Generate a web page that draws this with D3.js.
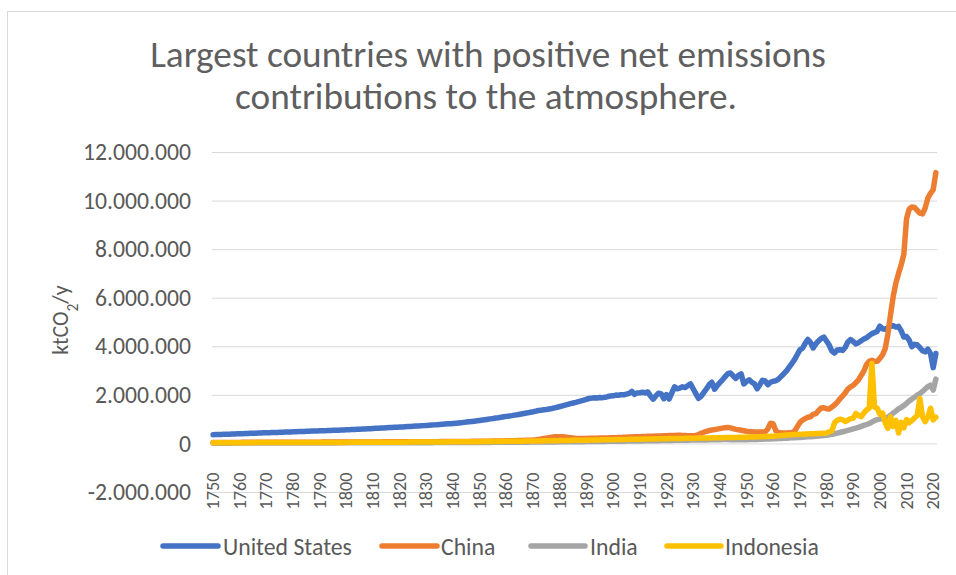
<!DOCTYPE html>
<html>
<head>
<meta charset="utf-8">
<script src="https://cdn.jsdelivr.net/npm/d3@7"></script>
<style>
  html, body { margin: 0; padding: 0; background: #ffffff; }
  svg { display: block; }
</style>
</head>
<body>
<svg id="chart" width="956" height="575"></svg>
<script>
// Annual CO2 emissions, in thousands of kt (plotted in kt), 1750–2021.
const years = d3.range(1750, 2022);

const unitedStates = [
  360,363,367,371,375,379,383,387,391,395,
  399,403,407,411,415,419,423,427,431,435,
  439,443,447,451,455,459,463,467,471,475,
  479,483,487,491,495,499,503,507,511,515,
  519,523,527,531,535,539,543,547,551,555,
  560,565,571,576,582,587,593,598,604,609,
  615,621,627,633,639,645,651,657,663,669,
  675,681,688,694,701,707,714,720,727,733,
  740,748,756,764,772,780,788,797,806,815,
  825,835,845,856,867,878,890,903,916,930,
  945,962,978,995,1010,1025,1045,1060,1080,1100,
  1115,1130,1145,1165,1180,1200,1220,1240,1260,1285,
  1305,1330,1355,1370,1385,1400,1420,1440,1465,1490,
  1520,1550,1580,1610,1640,1665,1690,1720,1750,1780,
  1820,1850,1865,1880,1870,1890,1885,1900,1930,1950,
  1960,1990,1985,2010,2000,2030,2060,2140,2020,2080,
  2090,2110,2080,2120,1950,1820,1960,2070,2040,1840,
  2010,1830,2080,2330,2250,2280,2330,2300,2380,2450,
  2250,2050,1860,1940,2100,2250,2420,2520,2230,2380,
  2500,2620,2750,2870,2900,2780,2680,2800,2860,2450,
  2550,2620,2520,2450,2250,2420,2600,2570,2420,2520,
  2560,2580,2650,2760,2870,2990,3140,3290,3450,3650,
  3850,3920,4120,4280,4150,3930,4100,4220,4320,4380,
  4220,4050,3800,3720,3850,3860,3830,3950,4180,4280,
  4200,4100,4150,4230,4300,4350,4440,4520,4560,4620,
  4830,4720,4700,4760,4820,4850,4790,4820,4640,4380,
  4400,4250,3980,4080,4060,3950,3820,3770,3880,3700,
  3120,3700
];

const china = [
  40,40,41,41,41,42,42,42,43,43,
  43,44,44,44,45,45,45,46,46,46,
  47,47,47,48,48,48,49,49,49,50,
  50,50,51,51,51,52,52,52,53,53,
  53,54,54,54,55,55,55,56,56,56,
  57,57,58,58,59,59,60,60,61,61,
  62,62,63,63,64,64,65,65,66,66,
  67,67,68,68,69,69,70,70,71,71,
  72,72,73,74,74,75,76,76,77,78,
  78,79,80,81,82,83,84,85,86,87,
  88,89,90,92,94,96,98,100,102,104,
  106,108,111,114,117,120,124,128,132,136,
  140,150,165,180,200,220,240,260,275,280,
  280,275,265,250,235,220,210,205,205,205,
  205,210,210,215,215,220,220,225,225,230,
  230,235,240,245,250,255,260,265,270,275,
  280,285,290,295,300,300,305,310,310,315,
  320,325,330,330,335,335,330,325,320,315,
  320,330,360,420,460,500,530,550,570,590,
  610,630,650,660,640,610,580,560,540,520,
  500,490,480,470,470,470,470,480,600,830,
  800,520,450,430,430,430,440,440,500,680,
  860,960,1020,1080,1100,1200,1230,1350,1460,1470,
  1430,1420,1500,1580,1690,1830,1950,2080,2240,2330,
  2390,2500,2620,2800,2980,3250,3380,3420,3370,3380,
  3500,3650,3900,4500,5300,6050,6600,7000,7350,7800,
  9250,9650,9740,9720,9600,9480,9450,9700,10100,10300,
  10450,11150
];

const india = [
  10,10,11,11,11,12,12,12,13,13,
  13,13,14,14,14,15,15,15,15,16,
  16,16,16,17,17,17,17,18,18,18,
  18,19,19,19,19,20,20,20,20,21,
  21,21,21,22,22,22,22,23,23,23,
  23,24,24,24,24,25,25,25,26,26,
  26,26,27,27,27,28,28,28,29,29,
  29,30,30,30,31,31,31,32,32,32,
  33,33,33,34,34,35,35,35,36,36,
  37,37,38,38,38,39,39,40,40,41,
  41,42,42,43,43,44,44,45,46,46,
  47,48,48,49,50,50,51,52,53,54,
  55,55,56,57,58,59,60,61,62,63,
  64,65,66,67,68,69,70,71,72,74,
  75,76,77,78,80,81,82,84,85,86,
  88,89,91,92,94,95,97,98,100,102,
  103,105,107,108,110,112,114,115,117,119,
  121,123,125,127,129,130,132,134,136,138,
  140,141,142,143,145,146,148,150,152,154,
  156,158,160,158,156,155,154,152,150,152,
  155,158,160,163,166,170,174,178,182,186,
  190,195,200,206,212,218,224,230,236,242,
  248,255,262,270,278,286,295,305,316,328,
  340,360,380,400,425,450,480,510,540,570,
  600,630,660,700,740,780,820,880,940,980,
  1000,1020,1040,1080,1160,1250,1330,1420,1480,1560,
  1650,1750,1830,1900,1990,2050,2140,2240,2340,2400,
  2200,2650
];

const indonesia = [
  30,30,30,31,31,31,31,32,32,32,
  32,33,33,33,33,34,34,34,34,35,
  35,35,35,36,36,36,36,37,37,37,
  37,38,38,38,38,39,39,39,40,40,
  40,40,41,41,41,42,42,42,43,43,
  43,44,44,44,45,45,46,46,46,47,
  47,48,48,48,49,49,50,50,51,51,
  52,52,53,53,54,54,55,55,56,57,
  57,58,59,59,60,61,61,62,63,64,
  65,65,66,67,68,69,70,71,72,73,
  74,75,76,77,78,80,81,82,83,85,
  86,87,89,90,91,93,94,96,97,99,
  100,102,103,105,107,108,110,112,113,115,
  117,119,120,122,124,126,128,130,132,134,
  136,138,140,142,144,146,148,150,152,154,
  156,158,160,162,164,166,168,170,172,174,
  176,178,180,182,184,186,188,190,192,194,
  196,198,200,202,204,206,208,210,212,214,
  216,218,220,222,224,226,228,230,232,234,
  236,238,240,242,244,246,248,250,252,254,
  256,260,264,268,272,276,280,285,290,295,
  300,310,320,330,340,350,355,360,365,370,
  375,380,385,390,395,400,405,410,415,420,
  430,480,520,850,950,1000,980,900,960,1020,
  1040,1240,1150,1100,1250,1380,1450,3300,1500,1450,
  1200,1250,850,620,1100,700,950,430,870,640,
  980,850,950,1050,1150,1850,1100,900,1100,1450,
  970,1080
];

const seriesNames  = ["United States", "China", "India", "Indonesia"];
const seriesValues = [unitedStates, china, india, indonesia];
const seriesColors = ["#4472C4", "#ED7D31", "#A5A5A5", "#FFC000"];

const yTicks = [-2000000, 0, 2000000, 4000000, 6000000, 8000000, 10000000, 12000000];
const xLabelYears = d3.range(1750, 2021, 10);

const titleLines = ["Largest countries with positive net emissions",
                    "contributions to the atmosphere."];

seriesValues.forEach((s, i) => {
  if (s.length !== years.length) throw new Error(seriesNames[i] + " has " + s.length + " values");
});

// ---- layout ----
const FONT = "Carlito, Calibri, Lato, 'Open Sans', sans-serif";
const TITLE_FONT = "'Calibri Light', Carlito, 'Lato Light', Lato, 'Open Sans', sans-serif";
const TEXT = "#595959";
const GRID = "#d9d9d9";
const plot = { left: 211.8, right: 937.2, top: 152, bottom: 492 };

const svg = d3.select("#chart");

// chart frame
svg.append("rect")
  .attr("x", 7.5).attr("y", 11.5)
  .attr("width", 1200).attr("height", 1200)
  .attr("fill", "none").attr("stroke", GRID).attr("stroke-width", 1);

// fit a text element's font size to a given rendered width
function fitWidth(sel, width) {
  const w = sel.node().getComputedTextLength();
  const fs = parseFloat(sel.attr("font-size"));
  const nfs = fs * width / w;
  sel.attr("font-size", nfs);
  return nfs;
}

// ---- title ----
const t1 = svg.append("text")
  .attr("x", 488).attr("y", 67)
  .attr("text-anchor", "middle")
  .attr("font-family", TITLE_FONT).attr("font-weight", 300)
  .attr("font-size", 30).attr("fill", "#5f5f5f")
  .text(titleLines[0]);
const titleSize = fitWidth(t1, 676);
svg.append("text")
  .attr("x", 486).attr("y", 109)
  .attr("text-anchor", "middle")
  .attr("font-family", TITLE_FONT).attr("font-weight", 300)
  .attr("font-size", titleSize).attr("fill", "#5f5f5f")
  .text(titleLines[1]);

// ---- scales ----
const x = d3.scalePoint()
  .domain(years)
  .range([plot.left, plot.right])
  .padding(0.5);

const y = d3.scaleLinear()
  .domain([-2000000, 12000000])
  .range([plot.bottom, plot.top]);

const locale = d3.formatLocale({ decimal: ",", thousands: ".", grouping: [3], currency: ["", ""], minus: "-" });
const fmt = locale.format(",");

// ---- gridlines + y axis labels ----
const yAxis = d3.axisLeft(y)
  .tickValues(yTicks)
  .tickSize(-(plot.right - plot.left))
  .tickPadding(20)
  .tickFormat(fmt);

const gy = svg.append("g")
  .attr("transform", `translate(${plot.left},0)`)
  .call(yAxis);
gy.select(".domain").remove();
gy.selectAll(".tick line").attr("stroke", GRID).attr("stroke-width", 1);
gy.selectAll(".tick text")
  .attr("font-family", FONT).attr("fill", TEXT).attr("font-size", 20)
  .attr("x", 191 - plot.left);
const yLabelSize = fitWidth(gy.selectAll(".tick text").filter(d => d === 12000000), 108);
gy.selectAll(".tick text").attr("font-size", yLabelSize);

// ---- x axis labels (rotated decade years) ----
const gx = svg.append("g");
const xl = gx.selectAll("text")
  .data(xLabelYears)
  .join("text")
  .attr("transform", d => `translate(${x(d)},491) rotate(-90)`)
  .attr("text-anchor", "middle")
  .attr("dominant-baseline", "central")
  .attr("font-family", FONT).attr("fill", TEXT).attr("font-size", 16)
  .text(d => d);
const xLabelSize = fitWidth(d3.select(xl.nodes()[0]), 37);
xl.attr("font-size", xLabelSize);

// ---- y axis title ----
const yt = svg.append("text")
  .attr("transform", "translate(68,320) rotate(-90)")
  .attr("text-anchor", "middle")
  .attr("font-family", FONT).attr("fill", TEXT).attr("font-size", 22);
yt.append("tspan").text("ktCO");
yt.append("tspan").attr("baseline-shift", "sub").attr("font-size", "70%").text("2");
yt.append("tspan").text("/y");

// ---- series lines ----
const line = d3.line()
  .x((d, i) => x(years[i]))
  .y(d => y(d * 1000));

svg.append("g")
  .selectAll("path")
  .data(seriesValues)
  .join("path")
  .attr("d", d => line(d))
  .attr("fill", "none")
  .attr("stroke", (d, i) => seriesColors[i])
  .attr("stroke-width", 5.5)
  .attr("stroke-linejoin", "round")
  .attr("stroke-linecap", "round");

// ---- legend ----
const legendItems = [
  { swatch: [163, 218], textX: 223 },
  { swatch: [382, 437], textX: 441 },
  { swatch: [531, 585], textX: 590 },
  { swatch: [667, 721], textX: 725 }
];
const legendY = 546;
const lg = svg.append("g");
legendItems.forEach((it, i) => {
  lg.append("line")
    .attr("x1", it.swatch[0]).attr("x2", it.swatch[1])
    .attr("y1", legendY).attr("y2", legendY)
    .attr("stroke", seriesColors[i]).attr("stroke-width", 5.5)
    .attr("stroke-linecap", "round");
  lg.append("text")
    .attr("x", it.textX).attr("y", legendY)
    .attr("dominant-baseline", "central")
    .attr("font-family", FONT).attr("fill", TEXT).attr("font-size", 20)
    .text(seriesNames[i]);
});
const legendSize = fitWidth(lg.selectAll("text").filter((d, i) => i === 0), 129);
lg.selectAll("text").attr("font-size", legendSize);
</script>
</body>
</html>
